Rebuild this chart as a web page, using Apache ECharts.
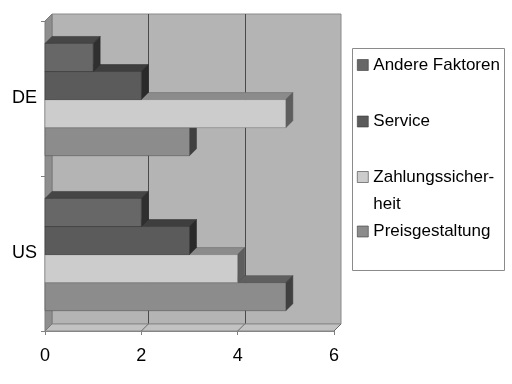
<!DOCTYPE html>
<html>
<head>
<meta charset="utf-8">
<script src="https://cdn.jsdelivr.net/npm/echarts@6/dist/echarts.min.js"></script>
<style>html,body{margin:0;padding:0;background:#fff}#c{width:512px;height:384px}</style>
</head>
<body>
<div id="c"></div>
<script>
// ---- data ----
const categories = ['DE', 'US'];            // top to bottom
const seriesNames = ['Andere Faktoren', 'Service', 'Zahlungssicherheit', 'Preisgestaltung'];
const andereFaktoren = [1, 2];              // DE, US
const service = [2, 3];
const zahlungssicherheit = [5, 4];
const preisgestaltung = [3, 5];
const xTicks = [0, 2, 4, 6];

const FONT = "'Liberation Sans', Arial, sans-serif";
const D = 7; // depth of 3D effect (px)
const colors = ['#676767', '#5b5b5b', '#cccccc', '#8c8c8c'];
const valueSets = [andereFaktoren, service, zahlungssicherheit, preisgestaltung];
const yCats = categories.slice().reverse(); // ECharts draws first category at bottom

function shade(hex, f) {
  const n = parseInt(hex.slice(1), 16);
  const r = Math.round(((n >> 16) & 255) * f), g = Math.round(((n >> 8) & 255) * f), b = Math.round((n & 255) * f);
  return 'rgb(' + r + ',' + g + ',' + b + ')';
}

function barSeries(idx) {
  const vals = valueSets[idx];
  return {
    type: 'custom',
    name: seriesNames[idx],
    z: 10 - idx,
    itemStyle: { color: colors[idx] },
    encode: { x: 0, y: 1 },
    data: categories.map((c, i) => [vals[i], c]),
    renderItem: function (params, api) {
      const v = api.value(0);
      const cat = api.value(1);
      const start = api.coord([0, cat]);
      const end = api.coord([v, cat]);
      const band = api.size([0, 1])[1];
      const bh = band * 0.181;
      const y0 = start[1] - band / 2 + band * 0.145 + idx * bh;
      const y1 = y0 + bh;
      const x0 = start[0], x1 = end[0];
      const base = api.visual('color');
      return {
        type: 'group',
        children: [
          { type: 'polygon', shape: { points: [[x0, y0], [x0 + D, y0 - D], [x1 + D, y0 - D], [x1, y0]] },
            style: { fill: shade(colors[idx], 0.68), stroke: shade(colors[idx], 0.5), lineWidth: 0.5 } },
          { type: 'polygon', shape: { points: [[x1, y0], [x1 + D, y0 - D], [x1 + D, y1 - D], [x1, y1]] },
            style: { fill: shade(colors[idx], 0.46), stroke: shade(colors[idx], 0.4), lineWidth: 0.5 } },
          { type: 'rect', shape: { x: x0, y: y0, width: x1 - x0, height: bh },
            style: { fill: base, stroke: shade(colors[idx], 0.55), lineWidth: 0.5 } }
        ]
      };
    }
  };
}

const wallSeries = {
  type: 'custom',
  silent: true,
  z: 1,
  data: [[0, categories[0]]],
  encode: { x: 0, y: 1 },
  renderItem: function (params, api) {
    const cs = params.coordSys;
    const L = cs.x, T = cs.y, R = cs.x + cs.width, B = cs.y + cs.height;
    const children = [];
    // back wall
    children.push({ type: 'rect', shape: { x: L + D, y: T - D, width: R - L, height: B - T },
      style: { fill: '#b4b4b4', stroke: '#8a8a8a', lineWidth: 1 } });
    // back wall grid lines
    xTicks.forEach(t => {
      if (t === xTicks[0] || t === xTicks[xTicks.length - 1]) return;
      const x = Math.round(api.coord([t, 0])[0] + D) + 0.5;
      children.push({ type: 'line', shape: { x1: x, y1: T - D, x2: x, y2: B - D }, style: { stroke: '#4a4a4a', lineWidth: 1 } });
    });
    // floor
    children.push({ type: 'polygon', shape: { points: [[L, B], [L + D, B - D], [R + D, B - D], [R, B]] },
      style: { fill: '#c2c2c2', stroke: '#8a8a8a', lineWidth: 1 } });
    xTicks.forEach(t => {
      if (t === xTicks[0]) return;
      const x = api.coord([t, 0])[0];
      children.push({ type: 'line', shape: { x1: x, y1: B, x2: x + D, y2: B - D }, style: { stroke: '#6a6a6a', lineWidth: 1 } });
    });
    // left wall
    children.push({ type: 'polygon', shape: { points: [[L, T], [L + D, T - D], [L + D, B - D], [L, B]] },
      style: { fill: '#8e8e8e', stroke: '#7a7a7a', lineWidth: 1 } });
    return { type: 'group', children: children };
  }
};

function legendFor(idx, top, extra) {
  return Object.assign({
    data: [seriesNames[idx]],
    left: 357,
    top: top,
    padding: 0,
    icon: 'rect',
    itemWidth: 11,
    itemHeight: 11,
    itemGap: 0,
    selectedMode: false,
    itemStyle: { borderColor: '#3a3a3a', borderWidth: 0.6 },
    textStyle: { fontFamily: FONT, fontSize: 17, color: '#000', lineHeight: 24 }
  }, extra || {});
}

const chart = echarts.init(document.getElementById('c'), null, { renderer: 'canvas' });
chart.setOption({
  animation: false,
  backgroundColor: '#ffffff',
  grid: { left: 45, right: 178, top: 21, bottom: 53 },
  xAxis: {
    type: 'value', min: 0, max: 6, interval: 2,
    axisLine: { show: true, lineStyle: { color: '#808080' } },
    axisTick: { show: true, length: 4, lineStyle: { color: '#808080' } },
    splitLine: { show: false },
    axisLabel: { fontFamily: FONT, fontSize: 18, color: '#000', margin: 16 }
  },
  yAxis: {
    type: 'category', data: yCats,
    axisLine: { show: true, lineStyle: { color: '#808080' } },
    axisTick: { show: true, length: 4, lineStyle: { color: '#808080' } },
    axisLabel: { fontFamily: FONT, fontSize: 18, color: '#000', margin: 8 }
  },
  graphic: [{
    type: 'rect', shape: { x: 352.5, y: 48.5, width: 152, height: 222 },
    style: { fill: '#fff', stroke: '#8a8a8a', lineWidth: 1 }, z: -1
  }],
  legend: [
    legendFor(0, 53),
    legendFor(1, 109.5),
    legendFor(2, 136.5, { formatter: () => '\nZahlungssicher-\nheit',
      textStyle: { fontFamily: FONT, fontSize: 17, color: '#000', lineHeight: 27 } }),
    legendFor(3, 219.5)
  ],
  series: [wallSeries, barSeries(0), barSeries(1), barSeries(2), barSeries(3)]
});
</script>
</body>
</html>
